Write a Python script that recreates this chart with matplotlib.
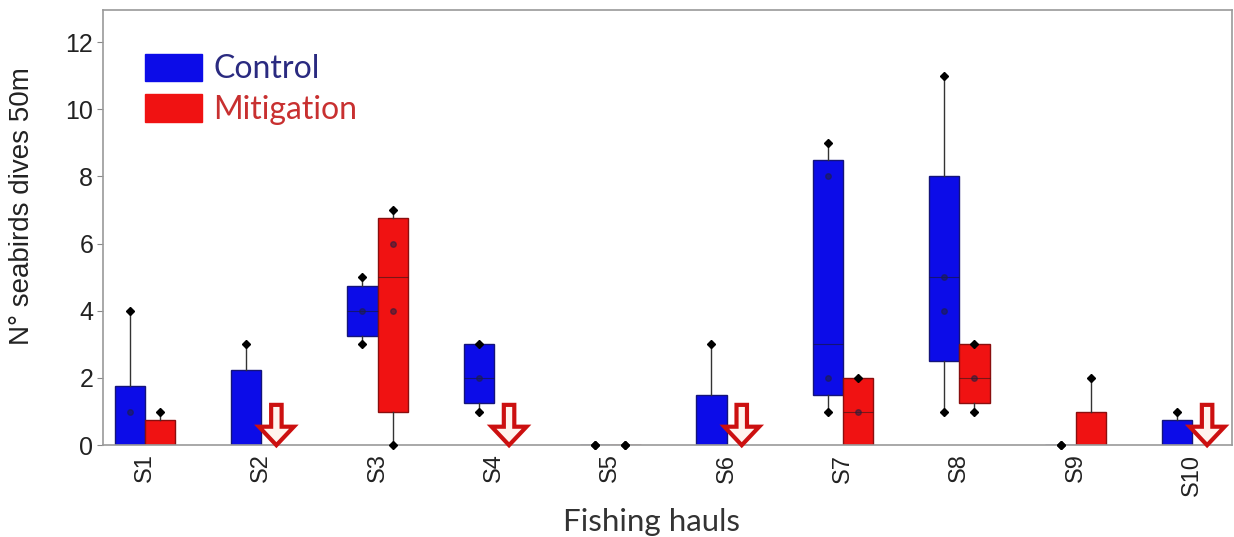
import numpy as np
import matplotlib
matplotlib.use("Agg")
import matplotlib.pyplot as plt
from matplotlib.patches import Rectangle, FancyArrow

# Fishing hauls
hauls = ["S1", "S2", "S3", "S4", "S5", "S6", "S7", "S8", "S9", "S10"]

# Control: box quartiles, median, whisker ends, observations inside the box
ctrl_q1 = [0, 0, 3.25, 1.25, 0, 0, 1.5, 2.5, 0, 0]
ctrl_q3 = [1.75, 2.25, 4.75, 3, 0, 1.5, 8.5, 8, 0, 0.75]
ctrl_med = [0, 0, 4, 2, 0, 0, 3, 5, 0, 0]
ctrl_lo = [0, 0, 3, 1, 0, 0, 1, 1, 0, 0]
ctrl_hi = [4, 3, 5, 3, 0, 3, 9, 11, 0, 1]
ctrl_pts = [[1], [], [4], [2], [], [], [8, 2], [5, 4], [], []]

# Mitigation (None = no dives, shown by a down arrow)
mit_q1 = [0, None, 1, None, 0, None, 0, 1.25, 0, None]
mit_q3 = [0.75, None, 6.75, None, 0, None, 2, 3, 1, None]
mit_med = [0, None, 5, None, 0, None, 1, 2, 0, None]
mit_lo = [0, None, 0, None, 0, None, 0, 1, 0, None]
mit_hi = [1, None, 7, None, 0, None, 2, 3, 2, None]
mit_pts = [[], [], [6, 4], [], [], [], [1], [2], [], []]

BLUE = "#0c0ce8"
BLUE_EDGE = "#14147a"
RED = "#f01212"
RED_EDGE = "#8a0e0e"

fig = plt.figure(figsize=(12.34, 5.37), dpi=100)
ax = fig.add_axes([0.0835, 0.171, 0.9145, 0.810])

pos = np.arange(1, len(hauls) + 1)
off = 0.13
width = 0.26


def draw_group(q1, q3, med, lo, hi, pts, x, face, edge):
    keep = [i for i, v in enumerate(q1) if v is not None]
    st = [dict(q1=q1[i], q3=q3[i], med=med[i], whislo=lo[i], whishi=hi[i],
               fliers=[]) for i in keep]
    xs = [x[i] for i in keep]
    ax.bxp(st, positions=xs, widths=width, patch_artist=True, showcaps=False,
           showfliers=False,
           boxprops=dict(facecolor=face, edgecolor=edge, linewidth=1.0),
           medianprops=dict(color="#1a1a1a", linewidth=0.8, alpha=0.55),
           whiskerprops=dict(color="#333333", linewidth=1.0))
    for i, xi in zip(keep, xs):
        ends = [hi[i]]
        if lo[i] < q1[i] or q1[i] == q3[i]:
            ends.append(lo[i])
        ax.plot([xi] * len(ends), ends, ls="none", marker="D", ms=4.5,
                color="black", clip_on=False, zorder=5)
        if pts[i]:
            ax.plot([xi] * len(pts[i]), pts[i], ls="none", marker="o", ms=4,
                    color="#202040", alpha=0.55, zorder=5)


draw_group(ctrl_q1, ctrl_q3, ctrl_med, ctrl_lo, ctrl_hi, ctrl_pts,
           pos - off, BLUE, BLUE_EDGE)
draw_group(mit_q1, mit_q3, mit_med, mit_lo, mit_hi, mit_pts,
           pos + off, RED, RED_EDGE)

# Down arrows where no mitigation dives were recorded
arrow_len = 1.2
for i, v in enumerate(mit_q1):
    if v is None:
        ax.add_patch(FancyArrow(pos[i] + off, arrow_len, 0, -arrow_len,
                                width=0.09, head_width=0.3, head_length=0.55,
                                length_includes_head=True, facecolor="#fff4ee",
                                edgecolor="#cc1010", linewidth=3.0, zorder=6,
                                clip_on=False))

ax.set_xlim(0.64, 10.34)
ax.set_ylim(0, 12.95)
ax.set_xticks(pos)
ax.set_xticklabels(hauls, rotation=90, fontsize=17, family="Liberation Sans",
                   color="#222222")
ax.set_yticks(range(0, 13, 2))
ax.set_yticklabels([str(v) for v in range(0, 13, 2)], fontsize=18,
                   family="Liberation Sans", color="#222222")
ax.tick_params(axis="x", length=0, pad=6)
ax.tick_params(axis="y", length=4, color="#888888", pad=3)
for s in ax.spines.values():
    s.set_color("#9a9a9a")
    s.set_linewidth(1.2)

ax.set_ylabel("N° seabirds dives 50m", fontsize=20, family="Liberation Sans",
              color="#222222")
ax.yaxis.set_label_coords(-0.06, 0.55)
ax.set_xlabel("Fishing hauls", fontsize=22.5, family="Lato", color="#333333")
ax.xaxis.set_label_coords(0.486, -0.145)

handles = [Rectangle((0, 0), 1, 1, facecolor=BLUE, edgecolor=BLUE),
           Rectangle((0, 0), 1, 1, facecolor=RED, edgecolor=RED)]
leg = ax.legend(handles, ["Control", "Mitigation"], loc="upper left",
                bbox_to_anchor=(0.037, 0.9), frameon=False,
                borderpad=0, borderaxespad=0,
                prop=dict(family="Lato", size=23), handlelength=1.8,
                handleheight=0.95, handletextpad=0.35, labelspacing=0.3,
                labelcolor=["#2a2a80", "#c83030"])

fig.savefig("out.png", dpi=100)
